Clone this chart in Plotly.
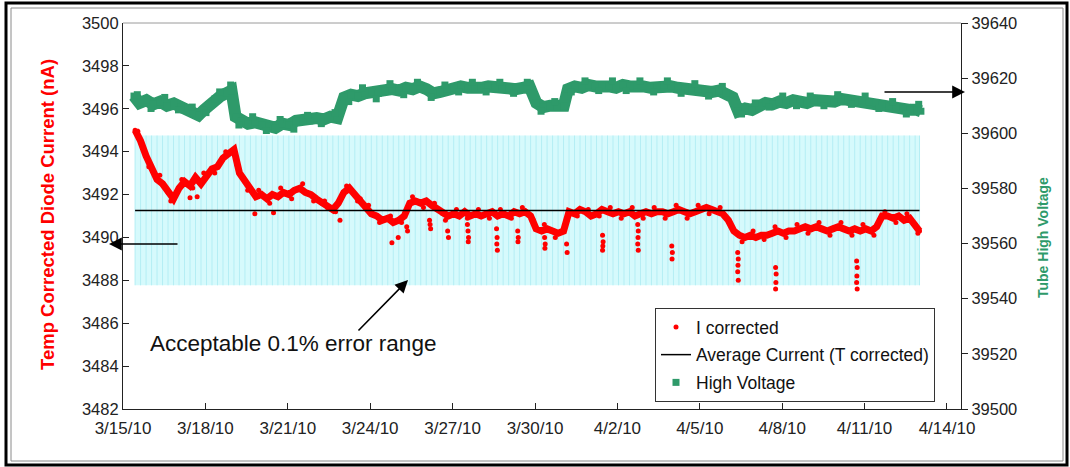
import pandas as pd
import plotly.graph_objects as go

# ---------------------------------------------------------------------------
# Data: day offsets measured from 3/15/10 00:00
# ---------------------------------------------------------------------------
START = "2010-03-15"

# Temperature-corrected diode current (nA), regular readings
I_DAYS = [
    0.44, 0.64, 0.84, 1.04, 1.24, 1.44, 1.64, 1.84, 2.04, 2.24, 2.44, 2.64, 2.84, 3.04,
    3.24, 3.44, 3.64, 3.84, 4.04, 4.24, 4.44, 4.64, 4.84, 5.04, 5.24, 5.44, 5.64, 5.84,
    6.04, 6.24, 6.44, 6.64, 6.84, 7.04, 7.24, 7.44, 7.64, 7.84, 8.04, 8.24, 8.44, 8.64,
    8.84, 9.04, 9.24, 9.44, 9.64, 9.84, 10.04, 10.24, 10.44, 10.64, 10.84, 11.04, 11.24,
    11.44, 11.64, 11.84, 12.04, 12.24, 12.44, 12.64, 12.84, 13.04, 13.24, 13.44, 13.64,
    13.84, 14.04, 14.24, 14.44, 14.64, 14.84, 15.04, 15.24, 15.44, 15.64, 15.84, 16.04,
    16.24, 16.44, 16.64, 16.84, 17.04, 17.24, 17.44, 17.64, 17.84, 18.04, 18.24, 18.44,
    18.64, 18.84, 19.04, 19.24, 19.44, 19.64, 19.84, 20.04, 20.24, 20.44, 20.64, 20.84,
    21.04, 21.24, 21.44, 21.64, 21.84, 22.04, 22.24, 22.44, 22.64, 22.84, 23.04, 23.24,
    23.44, 23.64, 23.84, 24.04, 24.24, 24.44, 24.64, 24.84, 25.04, 25.24, 25.44, 25.64,
    25.84, 26.04, 26.24, 26.44, 26.64, 26.84, 27.04, 27.24, 27.44, 27.64, 27.84, 28.04,
    28.24, 28.44, 28.64, 28.84, 29.00,
]
I_NA = [
    3495.0, 3494.5, 3493.8, 3493.2, 3492.7, 3492.5, 3492.1, 3491.8, 3492.3, 3492.6, 3492.4,
    3492.8, 3492.5, 3492.9, 3493.2, 3493.3, 3493.7, 3493.9, 3494.1, 3493.0, 3492.6, 3492.3,
    3491.9, 3492.0, 3491.8, 3492.0, 3491.9, 3492.1, 3492.0, 3492.2, 3492.3, 3492.1, 3492.0,
    3491.8, 3491.6, 3491.4, 3491.3, 3491.6, 3492.1, 3492.3, 3492.0, 3491.8, 3491.4, 3491.1,
    3491.0, 3490.8, 3490.9, 3490.7, 3490.8, 3491.0, 3491.6, 3491.7, 3491.6, 3491.7, 3491.5,
    3491.3, 3491.1, 3491.0, 3491.1, 3491.0, 3491.2, 3491.0, 3491.1, 3491.0, 3491.1, 3491.2,
    3491.0, 3491.1, 3491.0, 3491.2, 3491.1, 3491.2, 3491.0, 3490.4, 3490.3, 3490.4, 3490.3,
    3490.2, 3490.3, 3491.2, 3491.1, 3491.3, 3491.2, 3491.0, 3491.1, 3491.3, 3491.2, 3491.1,
    3491.2, 3491.1, 3491.2, 3491.0, 3491.1, 3491.2, 3491.1, 3491.2, 3491.2, 3491.1, 3491.2,
    3491.3, 3491.2, 3491.1, 3491.2, 3491.3, 3491.4, 3491.3, 3491.2, 3491.1, 3490.8, 3490.3,
    3490.1, 3490.0, 3490.1, 3490.0, 3490.1, 3490.1, 3490.2, 3490.3, 3490.2, 3490.3, 3490.3,
    3490.4, 3490.5, 3490.4, 3490.5, 3490.4, 3490.3, 3490.4, 3490.5, 3490.4, 3490.3, 3490.4,
    3490.3, 3490.4, 3490.3, 3490.5, 3491.0, 3491.0, 3490.9, 3491.0, 3490.8, 3490.9, 3490.6,
    3490.3,
]

# Intermediate current readings (scatter about the running level)
I_MID_DAYS = [
    0.54, 0.94, 1.34, 1.74, 2.14, 2.54, 2.94, 3.34, 3.74, 4.14, 4.54, 4.94, 5.34, 5.74,
    6.14, 6.54, 6.94, 7.34, 7.74, 8.14, 8.54, 8.94, 9.34, 9.74, 10.14, 10.54, 10.94,
    11.34, 11.74, 12.14, 12.54, 12.94, 13.34, 13.74, 14.14, 14.54, 14.94, 15.34, 15.74,
    16.14, 16.54, 16.94, 17.34, 17.74, 18.14, 18.54, 18.94, 19.34, 19.74, 20.14, 20.54,
    20.94, 21.34, 21.74, 22.14, 22.54, 22.94, 23.34, 23.74, 24.14, 24.54, 24.94, 25.34,
    25.74, 26.14, 26.54, 26.94, 27.34, 27.74, 28.14, 28.54, 28.94,
]
I_MID_NA = [
    3494.95, 3493.3, 3492.9, 3491.7, 3492.7, 3492.3, 3493.0, 3493.0, 3494.0, 3493.4,
    3492.2, 3492.2, 3491.6, 3492.3, 3491.8, 3492.5, 3491.7, 3491.7, 3491.2, 3492.4,
    3491.7, 3491.5, 3490.7, 3491.0, 3490.7, 3491.9, 3491.4, 3491.6, 3490.8, 3491.3,
    3490.9, 3491.3, 3490.9, 3491.3, 3490.9, 3491.4, 3490.8, 3490.6, 3490.0, 3490.8,
    3491.0, 3491.3, 3491.0, 3491.4, 3490.9, 3491.4, 3490.9, 3491.4, 3490.9, 3491.5,
    3490.9, 3491.5, 3491.1, 3491.4, 3490.5, 3489.8, 3490.3, 3489.9, 3490.5, 3490.0,
    3490.6, 3490.2, 3490.7, 3490.1, 3490.7, 3490.1, 3490.6, 3490.1, 3491.2, 3490.7,
    3491.1, 3490.2,
]

# Short excursions of the current below the running level
DIP_DAYS = [
    2.44, 2.70, 4.80, 5.48, 7.90, 9.79, 10.02, 10.33, 10.36,
    11.16, 11.18, 11.20, 11.82, 11.85,
    12.54, 12.56, 12.58, 12.57, 13.60, 13.62, 13.61, 13.63,
    14.37, 14.39, 14.38, 15.35, 15.37, 15.36, 16.15, 16.17,
    17.46, 17.48, 17.47, 17.46, 18.74, 18.76, 18.75, 18.74, 18.76,
    19.98, 20.00, 19.99,
    22.38, 22.40, 22.39, 22.38, 22.40,
    23.76, 23.78, 23.77, 23.76,
    26.71, 26.73, 26.72, 26.71, 26.73,
]
DIP_NA = [
    3491.85, 3491.9, 3491.1, 3491.15, 3490.8, 3489.75, 3490.0, 3490.5, 3490.3,
    3490.8, 3490.6, 3490.4, 3490.3, 3490.0,
    3490.6, 3490.3, 3490.0, 3489.8, 3490.4, 3490.0, 3489.7, 3489.4,
    3490.3, 3490.0, 3489.8, 3490.0, 3489.7, 3489.5, 3489.7, 3489.3,
    3490.1, 3489.8, 3489.6, 3489.4, 3490.6, 3490.3, 3490.0, 3489.7, 3489.4,
    3489.6, 3489.3, 3489.0,
    3489.3, 3489.0, 3488.7, 3488.4, 3488.0,
    3488.6, 3488.3, 3487.9, 3487.6,
    3488.9, 3488.6, 3488.2, 3487.9, 3487.6,
]

# Average current (T corrected) and the accepted relative tolerance
AVG_NA = 3491.26
TOLERANCE = 0.001  # 0.1 %

# Tube high voltage (V), regular readings
HV_DAYS = [
    0.40, 0.60, 0.85, 1.10, 1.35, 1.60, 1.85, 2.10, 2.35, 2.55, 2.75, 2.95, 3.15, 3.35,
    3.55, 3.75, 3.95, 4.10, 4.30, 4.55, 4.80, 5.05, 5.30, 5.55, 5.80, 6.05, 6.30, 6.55,
    6.80, 7.05, 7.30, 7.55, 7.80, 8.05, 8.30, 8.55, 8.80, 9.05, 9.30, 9.55, 9.80, 10.05,
    10.30, 10.55, 10.80, 11.05, 11.30, 11.55, 11.80, 12.05, 12.30, 12.55, 12.80, 13.05,
    13.30, 13.55, 13.80, 14.05, 14.30, 14.55, 14.80, 15.05, 15.30, 15.55, 15.80, 16.05,
    16.20, 16.45, 16.70, 16.95, 17.20, 17.45, 17.70, 17.95, 18.20, 18.45, 18.70, 18.95,
    19.20, 19.45, 19.70, 19.95, 20.20, 20.45, 20.70, 20.95, 21.20, 21.45, 21.70, 21.95,
    22.20, 22.40, 22.65, 22.90, 23.15, 23.40, 23.65, 23.90, 24.15, 24.40, 24.65, 24.90,
    25.15, 25.40, 25.65, 25.90, 26.15, 26.40, 26.65, 26.90, 27.15, 27.40, 27.65, 27.90,
    28.15, 28.40, 28.65, 28.90, 29.05,
]
HV_VOLTS = [
    39613.5, 39611.0, 39612.0, 39610.5, 39611.5, 39610.0, 39610.8, 39609.5, 39609.0,
    39607.5, 39606.5, 39608.5, 39610.5, 39612.5, 39613.5, 39614.5, 39615.5, 39606.0,
    39604.5, 39603.5, 39604.0, 39603.0, 39602.5, 39602.0, 39603.5, 39603.0, 39604.5,
    39605.0, 39604.5, 39605.5, 39605.0, 39606.0, 39605.5, 39613.0, 39614.0, 39613.5,
    39614.5, 39615.0, 39614.5, 39615.5, 39616.0, 39615.5, 39616.5, 39616.0, 39617.0,
    39616.0, 39614.5, 39615.0, 39616.0, 39616.5, 39617.0, 39616.5, 39616.0, 39616.5,
    39617.0, 39616.5, 39616.0, 39616.5, 39616.0, 39616.5, 39617.0, 39611.0, 39609.5,
    39610.0, 39609.5, 39610.0, 39616.0, 39617.0, 39616.5, 39617.5, 39617.0, 39617.5,
    39617.0, 39616.5, 39617.5, 39617.0, 39617.5, 39617.0, 39616.5, 39617.0, 39617.5,
    39617.0, 39616.5, 39616.0, 39616.5, 39616.0, 39615.5, 39615.0, 39615.5, 39614.5,
    39613.0, 39608.0, 39609.0, 39608.5, 39610.0, 39611.0, 39610.5, 39611.5, 39611.0,
    39612.0, 39611.5, 39611.0, 39612.0, 39611.5, 39612.0, 39611.5, 39612.5, 39612.0,
    39611.5, 39612.0, 39611.5, 39611.0, 39610.5, 39610.0, 39609.5, 39609.0, 39608.5,
    39608.5, 39608.0,
]

# Intermediate high-voltage readings (scatter about the running level)
HV_MID_DAYS = [
    0.52, 1.02, 1.52, 2.02, 2.52, 3.02, 3.52, 3.92, 4.22, 4.72, 5.22, 5.72, 6.22, 6.72,
    7.22, 7.72, 8.22, 8.72, 9.22, 9.72, 10.22, 10.72, 11.22, 11.72, 12.22, 12.72, 13.22,
    13.72, 14.22, 14.72, 15.22, 15.72, 16.32, 16.82, 17.32, 17.82, 18.32, 18.82, 19.32,
    19.82, 20.32, 20.82, 21.32, 21.82, 22.52, 23.02, 23.52, 24.02, 24.52, 25.02, 25.52,
    26.02, 26.52, 27.02, 27.52, 28.02, 28.52, 28.97,
]
HV_MID_VOLTS = [
    39614.0, 39609.0, 39613.0, 39608.5, 39609.5, 39607.5, 39615.0, 39617.5, 39603.0,
    39606.0, 39601.0, 39605.0, 39601.5, 39606.5, 39603.5, 39607.5, 39611.5, 39616.5,
    39612.5, 39618.0, 39614.0, 39618.5, 39613.0, 39617.5, 39615.0, 39618.5, 39615.0,
    39618.5, 39614.5, 39618.5, 39608.0, 39611.5, 39615.0, 39619.0, 39615.5, 39619.0,
    39615.5, 39619.0, 39615.0, 39619.0, 39614.5, 39618.0, 39613.5, 39617.0, 39607.0,
    39611.0, 39609.5, 39613.5, 39610.0, 39613.5, 39610.0, 39614.0, 39610.5, 39613.5,
    39609.0, 39611.5, 39607.0, 39610.5,
]

X_TICK_STEP_DAYS = 3


def to_dates(days):
    return pd.Timestamp(START) + pd.to_timedelta(days, unit="D")


i_main_x = to_dates(I_DAYS)
i_x = to_dates(I_DAYS + I_MID_DAYS + DIP_DAYS)
i_y = I_NA + I_MID_NA + DIP_NA
hv_main_x = to_dates(HV_DAYS)
hv_x = to_dates(HV_DAYS + HV_MID_DAYS)
hv_y = HV_VOLTS + HV_MID_VOLTS

half_band = AVG_NA * TOLERANCE
band_lo, band_hi = AVG_NA - half_band, AVG_NA + half_band
band_x = [i_main_x[0], i_main_x[-1], i_main_x[-1], i_main_x[0], i_main_x[0]]
band_y = [band_lo, band_lo, band_hi, band_hi, band_lo]

FONT = "Arial, Liberation Sans, sans-serif"
RED = "#FF0000"
GREEN = "#2E9A6A"

fig = go.Figure()

# Acceptable error range: pale fill plus one vertical error bar per sample
fig.add_trace(go.Scatter(
    x=band_x, y=band_y, mode="lines", fill="toself",
    fillcolor="#D6FAFC", line=dict(width=0), hoverinfo="skip", showlegend=False,
))
fig.add_trace(go.Scatter(
    x=i_main_x, y=[AVG_NA] * len(i_main_x), mode="markers",
    marker=dict(size=1, opacity=0),
    error_y=dict(type="constant", value=half_band, symmetric=True,
                 color="#B4EEF4", thickness=1, width=0),
    hoverinfo="skip", showlegend=False,
))

# dense trace bodies drawn as broad strokes beneath the sample markers
fig.add_trace(go.Scatter(
    x=i_main_x, y=I_NA, mode="lines", line=dict(color=RED, width=7),
    hoverinfo="skip", showlegend=False,
))
fig.add_trace(go.Scatter(
    x=hv_main_x, y=HV_VOLTS, mode="lines", line=dict(color=GREEN, width=12),
    yaxis="y2", hoverinfo="skip", showlegend=False,
))

fig.add_trace(go.Scatter(
    x=i_x, y=i_y, mode="markers", name="I corrected",
    legendrank=1, legendgroup="i",
    marker=dict(color=RED, size=5, symbol="circle"),
))
fig.add_trace(go.Scatter(
    x=hv_x, y=hv_y, mode="markers", name="High Voltage",
    legendrank=3, legendgroup="hv",
    marker=dict(color=GREEN, size=7, symbol="square"), yaxis="y2",
))
fig.add_trace(go.Scatter(
    x=[i_main_x[0], i_main_x[-1]], y=[AVG_NA, AVG_NA], mode="lines",
    name="Average Current (T corrected)", legendrank=2, legendgroup="avg",
    line=dict(color="black", width=1.5),
))

# paper coordinates of the plotting area: x 123..961 px, y 23..409 px
PL, PR, PT, PB = 123, 961, 23, 409


def px(xp):
    return (xp - PL) / (PR - PL)


def py(yp):
    return (PB - yp) / (PB - PT)


fig.update_layout(
    width=1070, height=467,
    margin=dict(l=PL, r=1070 - PR, t=PT, b=467 - PB),
    paper_bgcolor="white", plot_bgcolor="white",
    font=dict(family=FONT, size=16, color="#222222"),
    showlegend=True,
    legend=dict(
        x=px(655), y=py(308), xanchor="left", yanchor="top",
        bgcolor="white", bordercolor="#333333", borderwidth=1,
        font=dict(size=17.5, color="#111111"), itemwidth=30, tracegroupgap=2,
    ),
    xaxis=dict(
        type="date",
        range=[to_dates([0.0])[0], to_dates([30.51])[0]],
        tick0=START, dtick=X_TICK_STEP_DAYS * 86400000,
        tickformat="%-m/%-d/%y",
        showgrid=False, zeroline=False,
        showline=True, linecolor="#222222", linewidth=1.2,
        ticks="inside", ticklen=6, tickcolor="#222222",
        tickfont=dict(size=17), ticklabelstandoff=3,
    ),
    yaxis=dict(
        range=[3482, 3500], dtick=2, tick0=3482,
        showgrid=False, zeroline=False,
        showline=True, linecolor="#222222", linewidth=1.2,
        ticks="inside", ticklen=6, tickcolor="#222222",
        tickfont=dict(size=16.5),
    ),
    yaxis2=dict(
        range=[39500, 39640], dtick=20, tick0=39500, tickformat="d",
        overlaying="y", side="right",
        showgrid=False, zeroline=False,
        showline=True, linecolor="#222222", linewidth=1.2,
        ticks="outside", ticklen=6, tickcolor="#222222",
        tickfont=dict(size=16.5),
    ),
)

# plot-area top edge
fig.add_shape(type="line", xref="paper", yref="paper", x0=0, x1=1, y0=1, y1=1,
              line=dict(color="#9A9A9A", width=1))
# double frame around the chart
fig.add_shape(type="rect", xref="paper", yref="paper",
              x0=px(6), x1=px(1067), y0=py(465), y1=py(3),
              line=dict(color="black", width=3))
fig.add_shape(type="rect", xref="paper", yref="paper",
              x0=px(11), x1=px(1063), y0=py(461), y1=py(8),
              line=dict(color="#8A8A8A", width=1))

annotations = [
    dict(text="<b>Temp Corrected Diode Current (nA)</b>", x=px(47), y=py(215),
         textangle=-90, font=dict(size=18.5, color=RED)),
    dict(text="<b>Tube High Voltage</b>", x=px(1043), y=py(238),
         textangle=-90, font=dict(size=14, color=GREEN)),
    dict(text="Acceptable 0.1% error range", x=px(148), y=py(343),
         xanchor="left", font=dict(size=22.5, color="#111111")),
]
for a in annotations:
    a.update(xref="paper", yref="paper", showarrow=False,
             xanchor=a.get("xanchor", "center"), yanchor="middle")
    fig.add_annotation(**a)

# pointer arrows
arrows = [
    dict(x=px(109), y=py(244), ax=70, ay=0),     # toward the current axis
    dict(x=px(965), y=py(92), ax=-82, ay=0),     # toward the voltage axis
    dict(x=px(408), y=py(280), ax=-51, ay=52),   # toward the error band
]
for a in arrows:
    fig.add_annotation(xref="paper", yref="paper", text="", showarrow=True,
                       arrowhead=2, arrowsize=1.6, arrowwidth=1.6,
                       arrowcolor="black", **a)

fig.write_html("out.html")
